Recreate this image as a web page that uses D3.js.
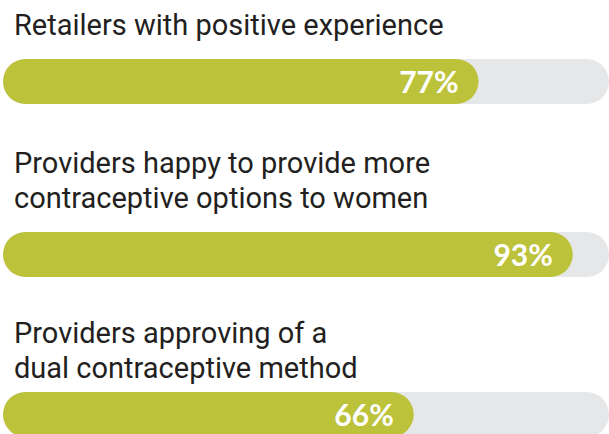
<!DOCTYPE html>
<html>
<head>
<meta charset="utf-8">
<script src="https://cdn.jsdelivr.net/npm/d3@7"></script>
<style>
  html, body { margin: 0; padding: 0; background: #ffffff; }
  svg { display: block; }
</style>
</head>
<body>
<div id="chart"></div>
<script>
// ---- data ----
const categories = [
  ["Retailers with positive experience"],
  ["Providers happy to provide more", "contraceptive options to women"],
  ["Providers approving of a", "dual contraceptive method"]
];
const values = [77, 93, 66];
const valueLabels = ["77%", "93%", "66%"];

// ---- layout ----
const W = 609, H = 434;
const barTops = [59, 232, 392];
const titleGap = [24, 24, 14];   // distance from last title baseline to bar top
const lineHeight = 35;
const barH = 45;
const trackLeft = 3, trackRight = 609;

const svg = d3.select("#chart").append("svg")
  .attr("width", W).attr("height", H);

const x = d3.scaleLinear().domain([0, 100]).range([25, 614]);

const groups = svg.selectAll("g.item")
  .data(values.map((v, i) => ({ v, i, lines: categories[i], label: valueLabels[i] })))
  .join("g")
  .attr("class", "item")
  .attr("transform", d => `translate(0,${barTops[d.i]})`);

// titles
groups.each(function(d) {
  const g = d3.select(this);
  const n = d.lines.length;
  g.selectAll("text.title")
    .data(d.lines)
    .join("text")
    .attr("class", "title")
    .attr("x", 14)
    .attr("y", (t, k) => -titleGap[d.i] - (n - 1 - k) * lineHeight)
    .attr("font-family", "Roboto, 'Noto Sans', sans-serif")
    .attr("font-size", 29)
    .attr("fill", "#231f20")
    .text(t => t);
});

// track
groups.append("rect")
  .attr("x", trackLeft)
  .attr("y", 0)
  .attr("width", trackRight - trackLeft)
  .attr("height", barH)
  .attr("rx", barH / 2)
  .attr("fill", "#e6e7e8");

// value bar
groups.append("rect")
  .attr("x", trackLeft)
  .attr("y", 0)
  .attr("width", d => x(d.v) - trackLeft)
  .attr("height", barH)
  .attr("rx", barH / 2)
  .attr("fill", "#bcc23a");

// value label
groups.append("text")
  .attr("x", d => x(d.v) - 20)
  .attr("y", barH / 2 + 11)
  .attr("text-anchor", "end")
  .attr("font-family", "Lato, 'Open Sans', sans-serif")
  .attr("font-weight", 700)
  .attr("font-size", 30)
  .attr("fill", "#ffffff")
  .text(d => d.label);
</script>
</body>
</html>
